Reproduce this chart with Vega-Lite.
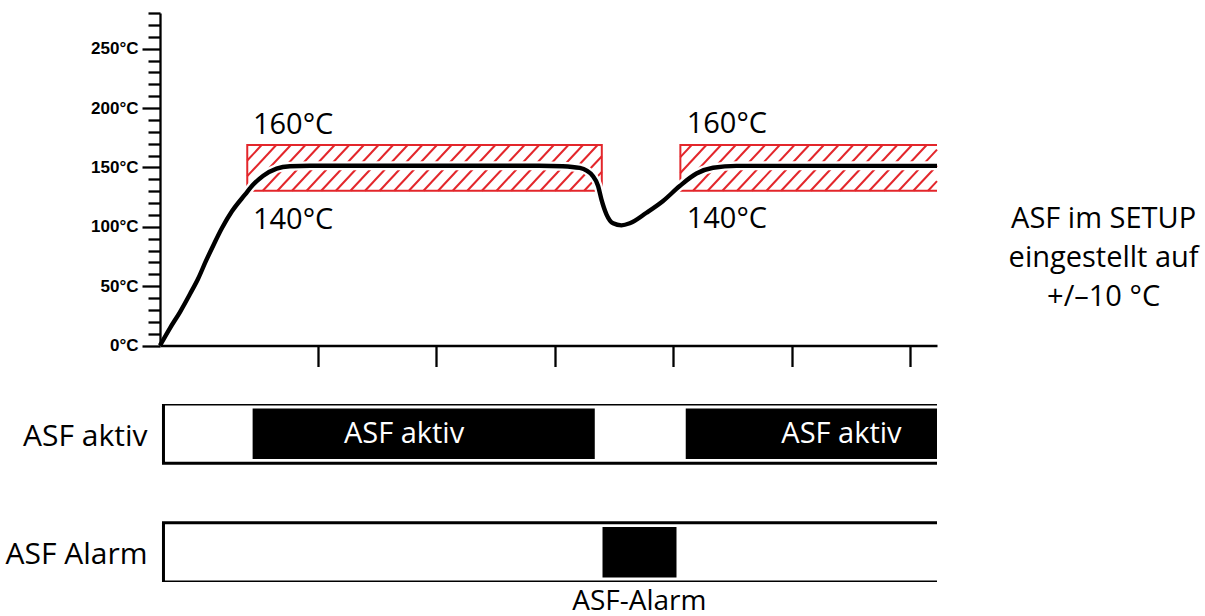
{
  "$schema": "https://vega.github.io/schema/vega-lite/v6.json",
  "autosize": {"type": "pad"},
  "padding": {"left": 5, "top": 4, "right": 5, "bottom": 2},
  "background": "white",
  "spacing": 36,
  "config": {
    "view": {"stroke": null},
    "font": "Open Sans",
    "text": {"font": "Open Sans", "fontSize": 29, "color": "black"}
  },
  "datasets": {
    "temp": [
      {"t": 0, "T": 0}, {"t": 1.27, "T": 14.7}, {"t": 2.53, "T": 28.2}, {"t": 3.8, "T": 43.4},
      {"t": 4.81, "T": 56}, {"t": 5.82, "T": 71.2}, {"t": 6.84, "T": 85.5}, {"t": 7.85, "T": 98.9},
      {"t": 9.11, "T": 113}, {"t": 10.76, "T": 127}, {"t": 11.81, "T": 135.5}, {"t": 13.08, "T": 143},
      {"t": 14.77, "T": 149}, {"t": 16.46, "T": 151}, {"t": 19, "T": 151.4}, {"t": 48, "T": 151.4},
      {"t": 51, "T": 151}, {"t": 53.16, "T": 149.5}, {"t": 54.85, "T": 142.5}, {"t": 55.48, "T": 134.3},
      {"t": 55.9, "T": 123.1}, {"t": 56.54, "T": 110.5}, {"t": 57.38, "T": 102.9}, {"t": 58.44, "T": 101.2},
      {"t": 59.49, "T": 102.9}, {"t": 61.61, "T": 111.8}, {"t": 63.71, "T": 121.7}, {"t": 65.82, "T": 134.3},
      {"t": 67.94, "T": 144.8}, {"t": 70.04, "T": 149.7}, {"t": 73, "T": 151.3}, {"t": 98.4, "T": 151.3}
    ],
    "bands": [
      {"start": 11.05, "end": 55.95, "lo": 130.3, "hi": 168.8},
      {"start": 65.9, "end": 100, "lo": 130.3, "hi": 168.8}
    ],
    "hatch": [
      {"t0": 11.05, "T0": 155.8, "t1": 12.87, "T1": 168.8},
      {"t0": 11.05, "T0": 142.6, "t1": 14.72, "T1": 168.8},
      {"t0": 11.17, "T0": 130.3, "t1": 16.57, "T1": 168.8},
      {"t0": 13.02, "T0": 130.3, "t1": 18.42, "T1": 168.8},
      {"t0": 14.87, "T0": 130.3, "t1": 20.27, "T1": 168.8},
      {"t0": 16.72, "T0": 130.3, "t1": 22.12, "T1": 168.8},
      {"t0": 18.57, "T0": 130.3, "t1": 23.97, "T1": 168.8},
      {"t0": 20.42, "T0": 130.3, "t1": 25.82, "T1": 168.8},
      {"t0": 22.27, "T0": 130.3, "t1": 27.67, "T1": 168.8},
      {"t0": 24.12, "T0": 130.3, "t1": 29.52, "T1": 168.8},
      {"t0": 25.97, "T0": 130.3, "t1": 31.37, "T1": 168.8},
      {"t0": 27.82, "T0": 130.3, "t1": 33.22, "T1": 168.8},
      {"t0": 29.67, "T0": 130.3, "t1": 35.07, "T1": 168.8},
      {"t0": 31.52, "T0": 130.3, "t1": 36.92, "T1": 168.8},
      {"t0": 33.37, "T0": 130.3, "t1": 38.77, "T1": 168.8},
      {"t0": 35.22, "T0": 130.3, "t1": 40.62, "T1": 168.8},
      {"t0": 37.07, "T0": 130.3, "t1": 42.47, "T1": 168.8},
      {"t0": 38.92, "T0": 130.3, "t1": 44.32, "T1": 168.8},
      {"t0": 40.77, "T0": 130.3, "t1": 46.17, "T1": 168.8},
      {"t0": 42.62, "T0": 130.3, "t1": 48.02, "T1": 168.8},
      {"t0": 44.47, "T0": 130.3, "t1": 49.87, "T1": 168.8},
      {"t0": 46.32, "T0": 130.3, "t1": 51.72, "T1": 168.8},
      {"t0": 48.17, "T0": 130.3, "t1": 53.57, "T1": 168.8},
      {"t0": 50.02, "T0": 130.3, "t1": 55.42, "T1": 168.8},
      {"t0": 51.87, "T0": 130.3, "t1": 55.95, "T1": 159.4},
      {"t0": 53.72, "T0": 130.3, "t1": 55.95, "T1": 146.2},
      {"t0": 55.57, "T0": 130.3, "t1": 55.95, "T1": 133.0},
      {"t0": 65.9, "T0": 158.6, "t1": 67.33, "T1": 168.8},
      {"t0": 65.9, "T0": 145.3, "t1": 69.19, "T1": 168.8},
      {"t0": 65.9, "T0": 132.1, "t1": 71.05, "T1": 168.8},
      {"t0": 67.51, "T0": 130.3, "t1": 72.91, "T1": 168.8},
      {"t0": 69.37, "T0": 130.3, "t1": 74.77, "T1": 168.8},
      {"t0": 71.23, "T0": 130.3, "t1": 76.63, "T1": 168.8},
      {"t0": 73.09, "T0": 130.3, "t1": 78.49, "T1": 168.8},
      {"t0": 74.95, "T0": 130.3, "t1": 80.35, "T1": 168.8},
      {"t0": 76.81, "T0": 130.3, "t1": 82.21, "T1": 168.8},
      {"t0": 78.67, "T0": 130.3, "t1": 84.07, "T1": 168.8},
      {"t0": 80.53, "T0": 130.3, "t1": 85.93, "T1": 168.8},
      {"t0": 82.39, "T0": 130.3, "t1": 87.79, "T1": 168.8},
      {"t0": 84.25, "T0": 130.3, "t1": 89.65, "T1": 168.8},
      {"t0": 86.11, "T0": 130.3, "t1": 91.51, "T1": 168.8},
      {"t0": 87.97, "T0": 130.3, "t1": 93.37, "T1": 168.8},
      {"t0": 89.83, "T0": 130.3, "t1": 95.23, "T1": 168.8},
      {"t0": 91.69, "T0": 130.3, "t1": 97.09, "T1": 168.8},
      {"t0": 93.55, "T0": 130.3, "t1": 98.4, "T1": 164.9},
      {"t0": 95.41, "T0": 130.3, "t1": 98.4, "T1": 151.6},
      {"t0": 97.27, "T0": 130.3, "t1": 98.4, "T1": 138.4}
    ],
    "limits": [
      {"t": 11.77, "T": 178.3, "label": "160°C"},
      {"t": 11.77, "T": 98.5, "label": "140°C"},
      {"t": 66.7, "T": 178.7, "label": "160°C"},
      {"t": 66.7, "T": 99.2, "label": "140°C"}
    ],
    "note": [
      {"t": 119.5, "T": 99.2, "label": "ASF im SETUP\neingestellt auf\n+/–10 °C"}
    ],
    "tracks": [
      {"track": "ASF aktiv", "start": 0.44, "end": 100},
      {"track": "ASF Alarm", "start": 0.44, "end": 100}
    ],
    "states": [
      {"track": "ASF aktiv", "start": 11.73, "end": 55.06},
      {"track": "ASF aktiv", "start": 66.58, "end": 100},
      {"track": "ASF Alarm", "start": 56.04, "end": 65.41}
    ],
    "stateLabels": [
      {"track": "ASF aktiv", "t": 30.9, "label": "ASF aktiv"},
      {"track": "ASF aktiv", "t": 86.3, "label": "ASF aktiv"}
    ],
    "alarmLabel": [
      {"track": "ASF Alarm", "t": 60.7, "label": "ASF-Alarm"}
    ]
  },
  "vconcat": [
    {
      "width": 777,
      "height": 332.5,
      "layer": [
        {
          "data": {"name": "hatch"},
          "mark": {"type": "rule", "color": "#e3262b", "strokeWidth": 2},
          "encoding": {
            "x": {
              "field": "t0", "type": "quantitative", "title": null,
              "scale": {"domain": [0, 98.4], "nice": false},
              "axis": {
                "values": [20, 35, 50, 65, 80, 95], "tickCount": 10, "labels": false, "grid": false,
                "tickSize": 21, "tickWidth": 2.3, "tickColor": "black",
                "domainColor": "black", "domainWidth": 2.3, "zindex": 1
              }
            },
            "x2": {"field": "t1"},
            "y": {
              "field": "T0", "type": "quantitative", "title": null,
              "scale": {"domain": [0, 280], "nice": false},
              "axis": {
                "values": [0, 10, 20, 30, 40, 50, 60, 70, 80, 90, 100, 110, 120, 130, 140, 150, 160, 170, 180, 190, 200, 210, 220, 230, 240, 250, 260, 270, 280],
                "tickCount": 40,
                "labelOverlap": false,
                "labelExpr": "datum.value % 50 === 0 ? datum.value + '°C' : ''",
                "tickSize": {"condition": {"test": "datum.value % 50 === 0", "value": 18}, "value": 12},
                "tickWidth": 2.3, "tickColor": "black", "grid": false,
                "domainColor": "black", "domainWidth": 2.3,
                "labelFont": "Liberation Sans", "labelFontWeight": "bold", "labelFontSize": 17,
                "labelColor": "black", "labelPadding": 4, "zindex": 1
              }
            },
            "y2": {"field": "T1"}
          }
        },
        {
          "data": {"name": "bands"},
          "mark": {"type": "rect", "fill": null, "stroke": "#e3262b", "strokeWidth": 2, "clip": true},
          "encoding": {
            "x": {"field": "start", "type": "quantitative", "title": null},
            "x2": {"field": "end"},
            "y": {"field": "lo", "type": "quantitative", "title": null},
            "y2": {"field": "hi"}
          }
        },
        {
          "data": {"name": "temp"},
          "mark": {"type": "line", "color": "white", "strokeWidth": 9, "interpolate": "monotone"},
          "encoding": {
            "x": {"field": "t", "type": "quantitative", "title": null},
            "y": {"field": "T", "type": "quantitative", "title": null}
          }
        },
        {
          "data": {"name": "temp"},
          "mark": {"type": "line", "color": "black", "strokeWidth": 4.4, "interpolate": "monotone"},
          "encoding": {
            "x": {"field": "t", "type": "quantitative", "title": null},
            "y": {"field": "T", "type": "quantitative", "title": null}
          }
        },
        {
          "data": {"name": "limits"},
          "mark": {"type": "text", "align": "left", "baseline": "alphabetic", "fontSize": 29},
          "encoding": {
            "x": {"field": "t", "type": "quantitative", "title": null},
            "y": {"field": "T", "type": "quantitative", "title": null},
            "text": {"field": "label"}
          }
        },
        {
          "data": {"name": "note"},
          "mark": {"type": "text", "align": "center", "baseline": "alphabetic", "fontSize": 29, "lineBreak": "\n", "lineHeight": 39.3},
          "encoding": {
            "x": {"field": "t", "type": "quantitative", "title": null},
            "y": {"field": "T", "type": "quantitative", "title": null},
            "text": {"field": "label"}
          }
        }
      ]
    },
    {
      "width": 777,
      "height": 178,
      "layer": [
        {
          "data": {"name": "tracks"},
          "mark": {"type": "bar", "filled": false, "color": "black", "strokeWidth": 3, "clip": true, "height": {"band": 1}},
          "encoding": {
            "x": {"field": "start", "type": "quantitative", "title": null, "scale": {"domain": [0, 98.4], "nice": false}, "axis": null},
            "x2": {"field": "end"},
            "y": {
              "field": "track", "type": "nominal", "title": null,
              "scale": {"domain": ["ASF aktiv", "gap", "ASF Alarm"], "paddingInner": 0, "paddingOuter": 0},
              "axis": {
                "labelExpr": "datum.value === 'gap' ? '' : datum.value",
                "ticks": false, "domain": false, "labelFont": "Open Sans", "labelFontSize": 30,
                "labelColor": "black", "labelPadding": 13, "labelOffset": 3
              }
            }
          }
        },
        {
          "data": {"name": "states"},
          "mark": {"type": "bar", "color": "black", "clip": true, "height": {"band": 0.85}},
          "encoding": {
            "x": {"field": "start", "type": "quantitative", "title": null},
            "x2": {"field": "end"},
            "y": {"field": "track", "type": "nominal", "title": null}
          }
        },
        {
          "data": {"name": "stateLabels"},
          "mark": {"type": "text", "color": "white", "align": "center", "baseline": "middle", "fontSize": 29},
          "encoding": {
            "x": {"field": "t", "type": "quantitative", "title": null},
            "y": {"field": "track", "type": "nominal", "title": null},
            "text": {"field": "label"}
          }
        },
        {
          "data": {"name": "alarmLabel"},
          "mark": {"type": "text", "align": "center", "baseline": "alphabetic", "fontSize": 28, "dy": 28},
          "encoding": {
            "x": {"field": "t", "type": "quantitative", "title": null},
            "y": {"field": "track", "type": "nominal", "title": null, "bandPosition": 1},
            "text": {"field": "label"}
          }
        }
      ]
    }
  ]
}
